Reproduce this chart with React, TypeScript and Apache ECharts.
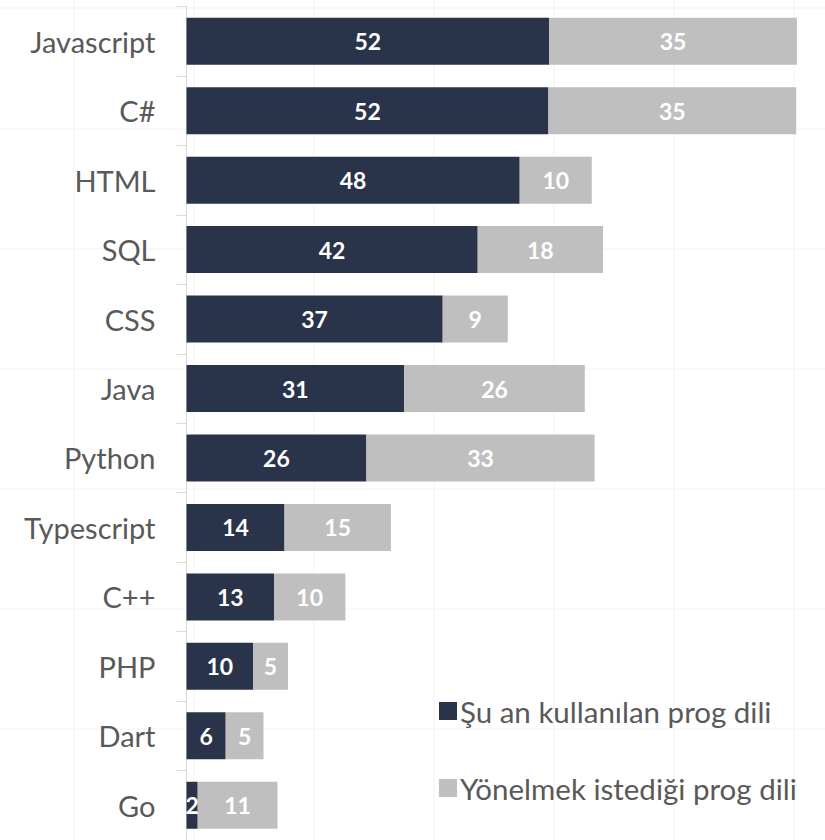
import React, { useEffect, useRef } from "react";
import * as echarts from "echarts";

const categories = ["Javascript", "C#", "HTML", "SQL", "CSS", "Java", "Python", "Typescript", "C++", "PHP", "Dart", "Go"];
const currentValues = [51.8, 51.7, 47.6, 41.6, 36.6, 31.1, 25.7, 14.0, 12.5, 9.5, 5.6, 1.6];
const targetValues = [35.4, 35.4, 10.3, 17.9, 9.3, 25.8, 32.6, 15.2, 10.2, 5.0, 5.4, 11.4];
const seriesNames = ["Şu an kullanılan prog dili", "Yönelmek istediği prog dili"];

const DARK = "#29334a";
const GRAY = "#bfbfbf";
const FONT = "Lato, 'Open Sans', sans-serif";

export default function App() {
  const ref = useRef<HTMLDivElement>(null);
  useEffect(() => {
    if (!ref.current) return;
    const chart = echarts.init(ref.current, undefined, { renderer: "svg" });
    const bgLines: any[] = [];
    [74, 194, 314, 434, 554, 674, 794].forEach((x) =>
      bgLines.push({ type: "line", z: -10, shape: { x1: x, y1: 0, x2: x, y2: 840 }, style: { stroke: "#f3f3f3", lineWidth: 1 } })
    );
    [8, 129, 249, 369, 489, 609, 729].forEach((y) =>
      bgLines.push({ type: "line", z: -10, shape: { x1: 0, y1: y, x2: 825, y2: y }, style: { stroke: "#f3f3f3", lineWidth: 1 } })
    );
    const labelStyle = {
      show: true,
      position: "inside" as const,
      color: "#ffffff",
      fontWeight: "bold" as const,
      fontSize: 23,
      fontFamily: FONT,
      formatter: (p: any) => String(Math.round(p.value)),
    };
    chart.setOption({
      animation: false,
      backgroundColor: "#ffffff",
      graphic: { elements: bgLines },
      grid: { left: 186.5, top: 6.5, width: 630, height: 837.6, containLabel: false },
      xAxis: {
        type: "value",
        min: 0,
        max: 90,
        show: false,
      },
      yAxis: {
        type: "category",
        data: categories,
        inverse: true,
        axisLine: { show: true, lineStyle: { color: "#d9d9d9", width: 1 } },
        axisTick: { show: true, length: 10, lineStyle: { color: "#d9d9d9" } },
        axisLabel: { color: "#595959", fontSize: 29, fontFamily: FONT, margin: 31 },
        splitLine: { show: false },
      },
      legend: {
        orient: "vertical",
        left: 434,
        top: 691,
        itemWidth: 18,
        itemHeight: 18,
        itemGap: 47,
        icon: "rect",
        textStyle: { color: "#595959", fontSize: 29.5, fontFamily: FONT, lineHeight: 30, padding: [0, 0, 0, -2] },
        data: seriesNames,
      },
      series: [
        {
          name: seriesNames[0],
          type: "bar",
          stack: "total",
          barWidth: 47,
          data: currentValues,
          itemStyle: { color: DARK },
          label: labelStyle,
          z: 2,
        },
        {
          name: seriesNames[1],
          type: "bar",
          stack: "total",
          barWidth: 47,
          data: targetValues,
          itemStyle: { color: GRAY },
          label: labelStyle,
          z: 2,
        },
      ],
    });
    return () => chart.dispose();
  }, []);
  return <div ref={ref} style={{ position: "absolute", left: 0, top: 0, width: 825, height: 840 }} />;
}
